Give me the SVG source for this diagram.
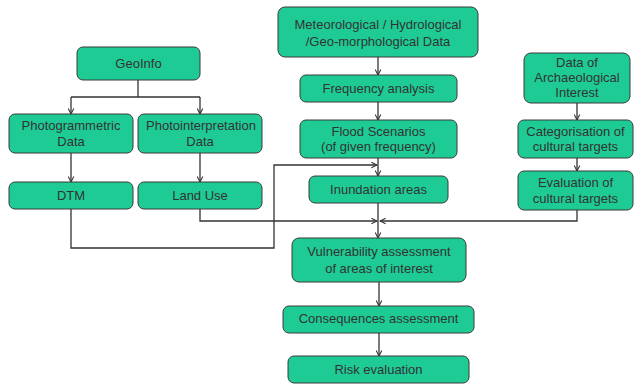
<svg xmlns="http://www.w3.org/2000/svg" width="635" height="386" viewBox="0 0 635 386">
<style>
.box{fill:#1ecb95;stroke:#3a3a3a;stroke-width:1}
.t{font-family:"Liberation Sans",Arial,sans-serif;font-size:13px;fill:#333;text-anchor:middle}
.c{fill:none;stroke:#333;stroke-width:1.3}
</style>
<defs>
<marker id="a" viewBox="0 0 10 10" refX="9" refY="5" markerWidth="7" markerHeight="7" orient="auto" markerUnits="userSpaceOnUse">
<path d="M1,1 L9,5 L1,9" fill="none" stroke="#333" stroke-width="1.5"/>
</marker>
</defs>
<rect width="635" height="386" fill="#fff"/>
<g id="connectors">
<path class="c" d="M138,80 V97 M71,97 H200"/>
<path class="c" d="M71,97 V114" marker-end="url(#a)"/>
<path class="c" d="M200,97 V114" marker-end="url(#a)"/>
<path class="c" d="M71,153 V182" marker-end="url(#a)"/>
<path class="c" d="M200,153 V182" marker-end="url(#a)"/>
<path class="c" d="M71,209 V248 H274 V165 H377" marker-end="url(#a)"/>
<path class="c" d="M200,209 V221 H377" marker-end="url(#a)"/>
<path class="c" d="M577,210 V221 H380" marker-end="url(#a)"/>
<path class="c" d="M378,57 V75" marker-end="url(#a)"/>
<path class="c" d="M378,102 V120" marker-end="url(#a)"/>
<path class="c" d="M378,158 V176" marker-end="url(#a)"/>
<path class="c" d="M378,203 V238" marker-end="url(#a)"/>
<path class="c" d="M379,282 V306" marker-end="url(#a)"/>
<path class="c" d="M379,333 V356" marker-end="url(#a)"/>
<path class="c" d="M577,103 V120" marker-end="url(#a)"/>
<path class="c" d="M577,158 V171" marker-end="url(#a)"/>
</g>
<g id="geoinfo"><rect class="box" x="77" y="47" width="123" height="33" rx="6"/><text class="t" x="138.5" y="68">GeoInfo</text></g>
<g id="photogrammetric"><rect class="box" x="9" y="114" width="124" height="39" rx="6"/><text class="t" x="71" y="130">Photogrammetric</text><text class="t" x="71" y="146">Data</text></g>
<g id="photointerpretation"><rect class="box" x="138" y="114" width="124" height="39" rx="6"/><text class="t" x="201" y="130">Photointerpretation</text><text class="t" x="200" y="146">Data</text></g>
<g id="dtm"><rect class="box" x="9" y="182" width="124" height="27" rx="6"/><text class="t" x="71" y="200">DTM</text></g>
<g id="landuse"><rect class="box" x="138" y="182" width="124" height="27" rx="6"/><text class="t" x="200" y="200">Land Use</text></g>
<g id="meteo"><rect class="box" x="278" y="7" width="200" height="50" rx="7"/><text class="t" x="378" y="29">Meteorological / Hydrological</text><text class="t" x="378" y="46">/Geo-morphological Data</text></g>
<g id="frequency"><rect class="box" x="300" y="75" width="157" height="27" rx="6"/><text class="t" x="378.5" y="93">Frequency analysis</text></g>
<g id="flood"><rect class="box" x="300" y="120" width="157" height="38" rx="6"/><text class="t" x="378.5" y="136">Flood Scenarios</text><text class="t" x="378.5" y="151">(of given frequency)</text></g>
<g id="inundation"><rect class="box" x="309" y="176" width="139" height="27" rx="6"/><text class="t" x="378.5" y="194">Inundation areas</text></g>
<g id="archaeo"><rect class="box" x="524" y="53" width="106" height="50" rx="7"/><text class="t" x="577" y="67">Data of</text><text class="t" x="577" y="82">Archaeological</text><text class="t" x="577" y="97">Interest</text></g>
<g id="categorisation"><rect class="box" x="518" y="120" width="115" height="38" rx="6"/><text class="t" x="575.5" y="136">Categorisation of</text><text class="t" x="575.5" y="151">cultural targets</text></g>
<g id="evaluation"><rect class="box" x="518" y="171" width="115" height="39" rx="6"/><text class="t" x="575.5" y="187">Evaluation of</text><text class="t" x="575.5" y="203">cultural targets</text></g>
<g id="vulnerability"><rect class="box" x="292" y="238" width="174" height="44" rx="7"/><text class="t" x="379" y="256">Vulnerability assessment</text><text class="t" x="379" y="273">of areas of interest</text></g>
<g id="consequences"><rect class="box" x="283" y="306" width="191" height="27" rx="6"/><text class="t" x="378.5" y="323">Consequences assessment</text></g>
<g id="risk"><rect class="box" x="288" y="356" width="181" height="27" rx="6"/><text class="t" x="378.5" y="374">Risk evaluation</text></g>
</svg>
